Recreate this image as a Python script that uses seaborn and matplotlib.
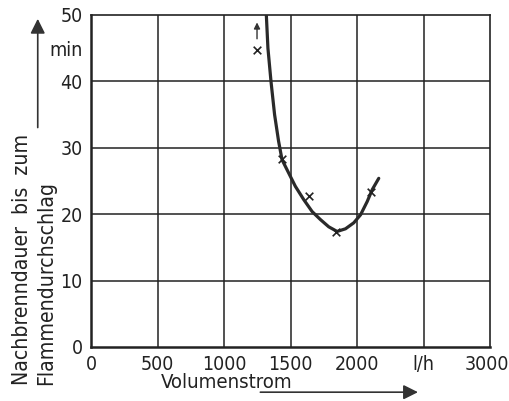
#importing the necessary libraries
import numpy as np
import pandas as pd
import matplotlib
matplotlib.use("Agg")
import matplotlib.pyplot as plt
import matplotlib.transforms as mtransforms
import seaborn as sns

#values
curve_flow = [1318, 1330, 1353, 1380, 1410, 1436, 1486, 1536, 1599, 1662, 1724,
              1787, 1850, 1913, 1975, 2026, 2076, 2114, 2163]
curve_time = [50, 45, 40, 35, 31, 28.2, 26.2, 24.2, 22.2, 20.4, 19.2,
              18.1, 17.4, 17.8, 18.7, 19.9, 21.9, 23.7, 25.4]
meas_flow = [1248, 1436, 1641, 1843, 2106]
meas_time = [44.8, 28.3, 22.7, 17.3, 23.3]
x_ticks = [0, 500, 1000, 1500, 2000, 2500, 3000]
x_ticklabels = ["0", "500", "1000", "1500", "2000", "l/h", "3000"]
y_ticks = [0, 10, 20, 30, 40, 45, 50]
y_ticklabels = ["0", "10", "20", "30", "40", "min", "50"]

sns.set_style("white")
plt.rcParams['font.family'] = ['DejaVu Sans']
plt.rcParams['font.stretch'] = 'condensed'

curve = pd.DataFrame({"flow": curve_flow, "time": curve_time})
meas = pd.DataFrame({"flow": meas_flow, "time": meas_time})

fig = plt.figure(figsize=(5.1, 4.01), dpi=100)
ax = fig.add_axes([0.1784, 0.1347, 0.7826, 0.8279])

#grid lines
for xv in [500, 1000, 1500, 2000, 2500]:
    ax.axvline(xv, color='#222222', lw=1.1, zorder=1)
for yv in [10, 20, 30, 40]:
    ax.axhline(yv, color='#222222', lw=1.1, zorder=1)

sns.lineplot(data=curve, x="flow", y="time", color='#2a2a2a', lw=2.3, ax=ax, zorder=3)
sns.scatterplot(data=meas, x="flow", y="time", marker='x', color='#222222', s=30,
                linewidth=1.2, ax=ax, zorder=4)

#small arrow above first measurement
ax.annotate("", xy=(1248, 49.3), xytext=(1248, 46.0),
            arrowprops=dict(arrowstyle='-|>', color='#333333', lw=1, mutation_scale=9))

ax.set_xlim(0, 3000)
ax.set_ylim(0, 50)
ax.set_xticks(x_ticks)
ax.set_xticklabels(x_ticklabels)
ax.set_yticks(y_ticks)
ax.set_yticklabels(y_ticklabels)
ax.tick_params(length=0, labelsize=14, pad=6, colors='#222222')
ax.set_xlabel("")
ax.set_ylabel("")

#keep the last x label inside the figure
last = ax.get_xticklabels()[-1]
last.set_transform(last.get_transform() +
                   mtransforms.ScaledTranslation(-0.03, 0, fig.dpi_scale_trans))

for side in ['left', 'bottom']:
    ax.spines[side].set_linewidth(1.8)
for side in ['top', 'right']:
    ax.spines[side].set_linewidth(1.2)
for side in ax.spines:
    ax.spines[side].set_color('#222222')

#axis titles with arrows
fig.text(0.316, 0.022, "Volumenstrom", fontsize=14.6, ha='left', va='bottom', color='#222222')
fig.text(0.044, 0.04, "Nachbrenndauer  bis  zum", fontsize=15.2, rotation=90,
         ha='center', va='bottom', color='#222222')
fig.text(0.091, 0.04, "Flammendurchschlag", fontsize=15.2, rotation=90,
         ha='center', va='bottom', color='#222222')
fig.add_artist(matplotlib.patches.FancyArrowPatch((0.505, 0.022), (0.825, 0.022),
               transform=fig.transFigure, arrowstyle='-|>', mutation_scale=22,
               color='#333333', lw=1.2))
fig.add_artist(matplotlib.patches.FancyArrowPatch((0.074, 0.675), (0.074, 0.96),
               transform=fig.transFigure, arrowstyle='-|>', mutation_scale=22,
               color='#333333', lw=1.2))

plt.savefig('out.png', dpi=100)
